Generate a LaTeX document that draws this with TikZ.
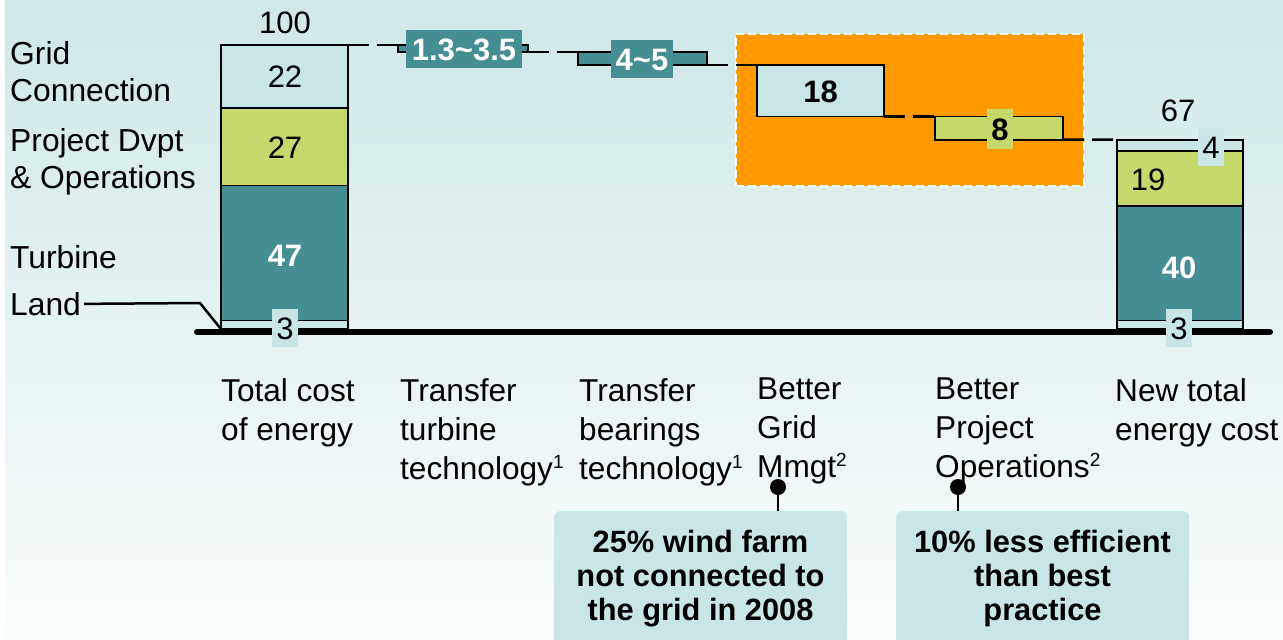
\documentclass[tikz,border=0pt]{standalone}
\usepackage{fontspec}
\setmainfont{Liberation Sans}
\definecolor{bgtop}{HTML}{CFE8E8}
\definecolor{bgbot}{HTML}{FAFDFD}
\definecolor{lteal}{HTML}{C8E6E6}
\definecolor{lgreen}{HTML}{C4D86C}
\definecolor{dteal}{HTML}{458E93}
\definecolor{orng}{HTML}{FF9900}
\newcommand\fsMain{\fontsize{31.8}{37}\selectfont}
\newcommand\fsAxis{\fontsize{31.6}{39}\selectfont}
\newcommand\fsNum{\fontsize{31}{37}\selectfont}
\newcommand\fsCall{\bfseries\fontsize{30.8}{34}\selectfont}
\newcommand\supnum[1]{\raisebox{11pt}{\fontsize{19}{19}\selectfont #1}}
\begin{document}
\begin{tikzpicture}[x=1pt,y=-1pt,
  seg/.style={draw=black, line width=1.6pt, inner sep=0pt, outer sep=0pt, anchor=north west},
  conn/.style={line width=2.5pt, dash pattern=on 21pt off 8pt},
  num/.style={font=\fsNum, inner sep=0pt, text height=22.2pt, text depth=0pt},
  bnum/.style={font=\fsNum\bfseries, inner sep=0pt, text height=22.2pt, text depth=0pt},
  tag/.style={num, fill=lteal, inner xsep=4.5pt, inner ysep=8pt},
  rangetag/.style={bnum, fill=dteal, text=white, inner xsep=6pt, inner ysep=8pt},
  sidelbl/.style={font=\fsMain, align=left, anchor=north west, inner sep=0pt},
  axislbl/.style={font=\fsAxis, align=left, anchor=north west, inner sep=0pt},
  callbox/.style={fill=lteal, rounded corners=6pt, anchor=north west, inner sep=0pt, minimum width=293pt, minimum height=140pt},
  calltxt/.style={font=\fsCall, align=center, anchor=north, inner sep=0pt},
  stub/.style={line width=2.5pt}
]
\useasboundingbox (0,0) rectangle (1283,640);
\clip (0,0) rectangle (1283,640);
% background
\fill[top color=bgtop, bottom color=bgbot] (0,0) rectangle (1283,640);
\fill[white] (0,0) rectangle (5,640);

% focus area
\node[fill=orng, draw=white, line width=2pt, dash pattern=on 8pt off 4pt, anchor=north west,
  minimum width=348pt, minimum height=152pt, inner sep=0pt] (focus) at (735,33) {};

% left bar
\node[seg, fill=lteal, minimum width=127pt, minimum height=63.1pt] (L22) at (221,45) {};
\node[seg, fill=lgreen, minimum width=127pt, minimum height=77.5pt] (L27) at (221,108.1) {};
\node[seg, fill=dteal, minimum width=127pt, minimum height=134.9pt] (L47) at (221,185.6) {};
\node[seg, fill=lteal, minimum width=127pt, minimum height=8.6pt] (L3) at (221,320.5) {};

% steps
\node[seg, fill=dteal, minimum width=130pt, minimum height=7pt] (S1) at (398,45) {};
\node[seg, fill=dteal, minimum width=129pt, minimum height=13pt] (S2) at (578,52) {};
\node[seg, fill=lteal, minimum width=127pt, minimum height=51.6pt] (S3) at (757,65) {};
\node[seg, fill=lgreen, minimum width=128pt, minimum height=23.1pt] (S4) at (935,116.6) {};

% right bar
\node[seg, fill=lteal, minimum width=126pt, minimum height=11.5pt] (R4) at (1117,139.7) {};
\node[seg, fill=lgreen, minimum width=126pt, minimum height=54.5pt] (R19) at (1117,151.2) {};
\node[seg, fill=dteal, minimum width=126pt, minimum height=114.8pt] (R40) at (1117,205.7) {};
\node[seg, fill=lteal, minimum width=126pt, minimum height=8.6pt] (R3) at (1117,320.5) {};

% connectors
\draw[conn] (L22.north east) -- (S1.north west);
\draw[conn] (S1.south east) -- (S2.north west);
\draw[conn] (S2.south east) -- (S3.north west);
\draw[conn] (S3.south east) -- (S4.north west);
\draw[conn] (S4.south east) -- (R4.north west);

% baseline
\coordinate (axL) at (197,332);
\coordinate (axR) at (1270,332);
\draw[line width=6pt, line cap=round] (axL) -- (axR);

% side labels
\node[sidelbl] (lgrid) at (10,41.5) {Grid\\Connection};
\node[sidelbl] (lproj) at (10,128) {Project Dvpt\\\& Operations};
\node[sidelbl] (lturb) at (10,245) {Turbine};
\node[sidelbl] (lland) at (10,292) {Land};
\coordinate (landbend) at (200,303);
\draw[line width=2.5pt] ([xshift=3pt]lland.east) -- (landbend) -- (L3.south west);

% values
\node[num] (v100) at (285,22) {100};
\node[num] (v22) at (285,76.5) {22};
\node[num] (v27) at (285,147) {27};
\node[bnum, text=white] (v47) at (285,255) {47};
\node[tag] (v3a) at (285,328) {3};
\node[rangetag] (v13) at (464,49) {1.3\textasciitilde3.5};
\node[rangetag, inner xsep=4.5pt] (v45) at (642,59) {4\textasciitilde5};
\node[bnum] (v18) at (820.5,91) {18};
\node[bnum, fill=lgreen, inner xsep=4.5pt, inner ysep=9pt] (v8) at (1000,129) {8};
\node[num] (v67) at (1178,110) {67};
\node[tag, inner ysep=8pt] (v4) at (1211,147) {4};
\node[num] (v19) at (1148,179) {19};
\node[bnum, text=white] (v40) at (1179,267) {40};
\node[tag] (v3b) at (1179,328) {3};

% axis labels
\node[axislbl] (x1) at (221,378) {Total cost\\of energy};
\node[axislbl] (x2) at (400,378) {Transfer\\turbine\\technology\supnum{1}};
\node[axislbl] (x3) at (579,378) {Transfer\\bearings\\technology\supnum{1}};
\node[axislbl] (x4) at (757,378) {Better\\Grid\\Mmgt\supnum{2}};
\node[axislbl] (x5) at (935,378) {Better\\Project\\Operations\supnum{2}};
\node[axislbl] (x6) at (1115,378) {New total\\energy cost};

% callouts
\node[callbox] (call1) at (554,511) {};
\node[callbox] (call2) at (896,511) {};
\node[calltxt] (t1) at (700.5,530) {25\% wind farm\\not connected to\\the grid in 2008};
\node[calltxt] (t2) at (1042.5,530) {10\% less efficient\\than best\\practice};
\coordinate (dot1) at (778,487);
\coordinate (dot2) at (958,487);
\fill (dot1) circle (8pt);
\fill (dot2) circle (8pt);
\draw[stub] (dot1) -- (dot1 |- call1.north);
\draw[stub] (dot2) -- (dot2 |- call2.north);
\end{tikzpicture}
\end{document}
